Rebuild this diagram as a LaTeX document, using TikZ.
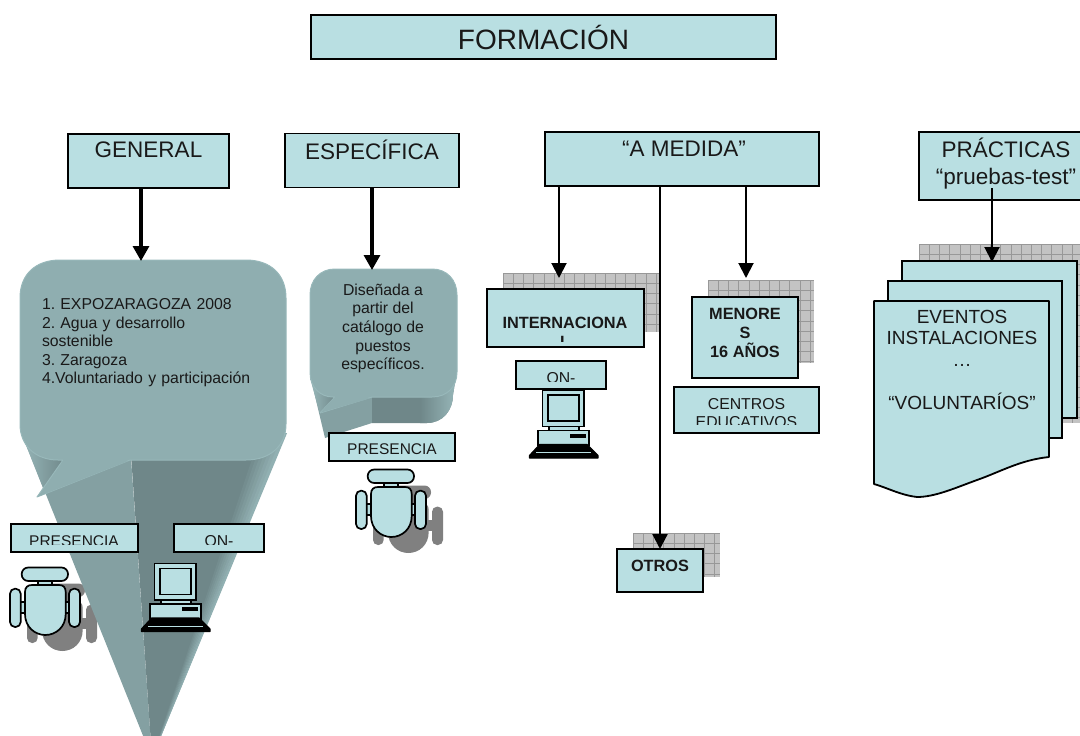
\documentclass[tikz,border=0pt]{standalone}
\usepackage{fontspec}
\setmainfont{Liberation Sans}
\usetikzlibrary{arrows.meta}
\definecolor{boxfill}{HTML}{B9DFE2}
\definecolor{cfront}{HTML}{8FAEB0}
\definecolor{cleft}{HTML}{84A0A2}
\definecolor{cdark}{HTML}{6F8789}
\definecolor{clight}{HTML}{98B8BA}
\definecolor{hatchbg}{HTML}{C3C3C3}
\definecolor{hatchln}{HTML}{989898}
\definecolor{shadowgrey}{HTML}{808080}
\frenchspacing
\newcommand{\fsz}[2]{\fontsize{#1pt}{#2pt}\selectfont}
\newcommand{\chairparts}[1]{%
  \path[#1,rounded corners=1pt] (28,13) rectangle (42,19);
  \path[#1] (10,35) rectangle (15.5,46);
  \path[#1] (55,35) rectangle (59.5,46);
  \path[#1,rounded corners=6.5pt] (11.7,0.5) rectangle (58,14);
  \path[#1,rounded corners=5pt] (0,21.7) rectangle (10.7,60);
  \path[#1,rounded corners=5pt] (59,21.7) rectangle (70,60);
  \path[#1] (15,47) -- (15,25) .. controls (15,20) and (18,18) .. (22,18) -- (49,18) .. controls (53,18) and (55.7,20) .. (55.7,25) -- (55.7,47) .. controls (55.7,60) and (46,68) .. (35.3,68) .. controls (25,68) and (15,60) .. (15,47) -- cycle;
}
\newcommand{\hatchrect}[4]{%
  \fill[hatchbg] (#1,#2) rectangle (#3,#4);
  \begin{scope}
    \clip (#1,#2) rectangle (#3,#4);
    \foreach \k in {0,...,20} {
      \draw[hatchln,line width=0.6pt] ({#1+\k*10.2},#2) -- ({#1+\k*10.2},#4);
      \draw[hatchln,line width=0.6pt] (#1,{#2+\k*10.2}) -- (#3,{#2+\k*10.2});
    }
  \end{scope}
}
\tikzset{
  box/.style={draw=black,fill=boxfill,line width=1.8pt,inner sep=0pt,outer sep=0pt,align=center},
  lbl/.style={inner sep=0pt,outer sep=0pt,align=center,text=black!90},
  small/.style={font=\fsz{15.8}{18.6}},
  smallb/.style={font=\fsz{16.3}{19}\bfseries},
  big/.style={font=\fsz{22.5}{27}},
  conn/.style={draw=black,line width=2pt,-{Triangle[length=15pt,width=15pt]}},
  connthick/.style={draw=black,line width=3.2pt,-{Triangle[length=15pt,width=16pt]}},
  chairicon/.pic={\chairparts{draw=black,fill=boxfill,line width=1.7pt}},
  chairshadow/.pic={\chairparts{fill=shadowgrey}},
  pcicon/.pic={
    \draw[black,fill=boxfill,line width=1.6pt] (19.7,36) rectangle (49.7,42);
    \draw[black,fill=boxfill,line width=1.6pt] (13.3,0.3) rectangle (55,37);
    \draw[black,fill=boxfill,line width=1.6pt] (19,5.3) rectangle (49.7,31.3);
    \draw[black,fill=boxfill,line width=1.6pt] (9,41) rectangle (60,56);
    \fill[black] (40.7,44) rectangle (57,48);
    \draw[black,fill=black,line width=1.2pt,line join=round] (10.7,55) -- (58,55) -- (69,66) -- (69,68.5) -- (0.5,68.5) -- (0.5,66) -- cycle;
    \draw[boxfill,line width=0.5pt] (7,63) -- (62,63);
  },
}
\begin{document}
\begin{tikzpicture}[x=1pt,y=-1pt]
\useasboundingbox (0,0) rectangle (1080,736);
\clip (0,0) rectangle (1080,736);

% shadows behind the cone
\pic at (27,583) {chairshadow};
\pic at (373,485) {chairshadow};

% GENERAL callout: extrusion
\coordinate (apex) at (152,758);
\fill[cleft] (20,430) -- (apex) -- (131,458) -- cycle;
\shade[left color=clight,right color=cdark] (20,430) -- (43,488) -- (66,458) -- cycle;
\fill[cdark] (130,440) -- (apex) -- (286,433) -- cycle;
\foreach \i in {0,...,7} {
  \pgfmathsetmacro\pct{100-\i*12}
  \fill[cdark!\pct!clight] ({257+\i*3.7},433) -- (apex) -- ({261.2+\i*3.7},433) -- cycle;
}
% GENERAL callout: front
\draw[draw=clight,line width=1pt,fill=cfront,line join=round]
  (60,260) -- (246,260) .. controls (270,260) and (286,274) .. (286,298)
  -- (286,424) .. controls (286,446) and (270,460) .. (246,460)
  -- (130,460) -- (37,497) -- (63,460) -- (58,460)
  .. controls (36,460) and (20,446) .. (20,424)
  -- (20,298) .. controls (20,274) and (36,260) .. (60,260) -- cycle;
\fill[cfront] (128,461) -- (38,496.5) -- (50,484) -- (64,459) -- cycle;
\node[lbl,small,align=left,anchor=north west,text width=215pt] (gentext) at (42,298.5)
  {1. EXPOZARAGOZA 2008\\2. Agua y desarrollo\\sostenible\\3. Zaragoza\\4.Voluntariado y participación};

% ESPECIFICA callout
\fill[cleft] (310,375) -- (325,438) -- (372,423) -- (372,396) -- cycle;
\shade[left color=clight,right color=cdark] (310,378) -- (320,414) -- (337,396) -- cycle;
\fill[cdark] (372,390) -- (372,423) -- (427,423) .. controls (443,423) and (453,410) .. (453,395) -- (457,370) -- cycle;
\shade[left color=cdark,right color=clight] (420,385) -- (420,423) -- (427,423) .. controls (443,423) and (453,410) .. (453,395) -- (457,370) -- cycle;
\draw[draw=clight,line width=1pt,fill=cfront,line join=round]
  (335,269) -- (432,269) .. controls (447,269) and (457,280) .. (457,295)
  -- (457,372) .. controls (457,387) and (447,397) .. (432,397)
  -- (372,397) -- (320,413) -- (335,397) -- (333,397)
  .. controls (320,397) and (310,387) .. (310,372)
  -- (310,295) .. controls (310,280) and (320,269) .. (335,269) -- cycle;
\fill[cfront] (371,398) -- (321,412.5) -- (328,404) -- (336,396) -- cycle;
\node[lbl,small] (esptext) at (383,328.5)
  {Diseñada a\\partir del\\catálogo de\\puestos\\específicos.};

% hatched backgrounds
\hatchrect{503}{273}{660}{332}
\hatchrect{708}{280}{814}{363}
\hatchrect{633}{533}{720}{577}
\hatchrect{919}{244}{1080}{423}

% title and heading boxes
\node[box,minimum width=465pt,minimum height=44pt] (title) at (543.5,37) {};
\node[lbl,font=\fsz{28}{32}] (titletxt) at (543.5,37.5) {FORMACIÓN};
\node[box,minimum width=161pt,minimum height=54pt] (general) at (148.5,161) {};
\node[lbl,big] (generaltxt) at (148.5,150) {GENERAL};
\node[box,minimum width=174pt,minimum height=54pt] (especifica) at (372,160.5) {};
\node[lbl,big] (especificatxt) at (372,150) {ESPECÍFICA};
\node[box,minimum width=274pt,minimum height=54pt] (medida) at (682,159) {};
\node[lbl,big] (medidatxt) at (684,149) {“A MEDIDA”};
\node[box,minimum width=180pt,minimum height=68pt] (practicas) at (1009,166) {};
\node[lbl,big] (practicastxt) at (1006,164) {PRÁCTICAS\\“pruebas-test”};

% GENERAL sub-boxes
\node[box,minimum width=127pt,minimum height=28pt] (presg) at (74.5,538) {};
\begin{scope}
  \clip (11,525) rectangle (138,544.5);
  \node[lbl,font=\fsz{15.5}{18}] (presgtxt) at (74,541.5) {PRESENCIA};
\end{scope}
\node[box,minimum width=90pt,minimum height=28pt] (ong) at (219,538) {};
\begin{scope}
  \clip (174,525) rectangle (264,544.5);
  \node[lbl,small] (ongtxt) at (219,541.5) {ON-};
\end{scope}
\pic at (10,567) {chairicon};
\pic at (141,563) {pcicon};

% ESPECIFICA sub-box
\node[box,minimum width=126pt,minimum height=28pt] (presE) at (392,447) {};
\node[lbl,font=\fsz{15.5}{18}] (presEtxt) at (392,449.5) {PRESENCIA};
\pic at (356,469) {chairicon};

% A MEDIDA boxes
\node[box,minimum width=157pt,minimum height=58pt] (inter) at (565.5,318) {};
\begin{scope}
  \clip (488,290) rectangle (643,341);
  \node[lbl,smallb] (intertxt) at (565,332.5) {INTERNACIONA\\L};
\end{scope}
\node[box,minimum width=90pt,minimum height=28pt] (oni) at (561,375) {};
\begin{scope}
  \clip (517,362) rectangle (605,381.5);
  \node[lbl,small] (onitxt) at (561,378) {ON-};
\end{scope}
\pic at (529,389.5) {pcicon};
\node[box,minimum width=106pt,minimum height=81pt] (menores) at (745,337.5) {};
\node[lbl,smallb] (menorestxt) at (745,332.5) {MENORE\\S\\16 AÑOS};
\node[box,minimum width=145pt,minimum height=46pt] (centros) at (746.5,410) {};
\begin{scope}
  \clip (675,388) rectangle (818,424.5);
  \node[lbl,small] (centrostxt) at (746.5,413) {CENTROS\\EDUCATIVOS};
\end{scope}
\node[box,minimum width=86pt,minimum height=43pt] (otros) at (660,570.5) {};
\node[lbl,smallb] (otrostxt) at (660,565.5) {OTROS};

% PRACTICAS pages
\node[box,minimum width=175pt,minimum height=157pt] (pageA) at (989.5,339.5) {};
\node[box,minimum width=174pt,minimum height=157pt] (pageB) at (975,359.5) {};
\draw[black,fill=boxfill,line width=1.8pt,line join=round]
  (874,301) -- (1049,301) -- (1049,457)
  .. controls (1020,460) and (1000,472) .. (977,480)
  .. controls (955,488) and (935,497) .. (917,497)
  .. controls (900,495) and (888,488) .. (874,484) -- cycle;
\node[lbl,font=\fsz{19}{21.6}] (pagetext) at (962,360)
  {EVENTOS\\INSTALACIONES\\…\\\mbox{}\\“VOLUNTARÍOS”};

% connectors
\coordinate (gentop) at (141,261);
\coordinate (esptop) at (372,270);
\coordinate (mfrom1) at (559,186);
\coordinate (mto1) at (559,278);
\coordinate (mfrom2) at (746,186);
\coordinate (mto2) at (746,278);
\coordinate (mfrom3) at (660,186);
\coordinate (pfrom) at (992,188);
\coordinate (pto) at (992,262);
\draw[connthick] (general.south -| gentop) -- (gentop);
\draw[connthick] (especifica.south) -- (esptop);
\draw[conn] (mfrom1) -- (mto1);
\draw[conn] (mfrom2) -- (mto2);
\draw[conn,line width=2.2pt] (mfrom3) -- (otros.north);
\draw[conn] (pfrom) -- (pto);
\end{tikzpicture}
\end{document}
